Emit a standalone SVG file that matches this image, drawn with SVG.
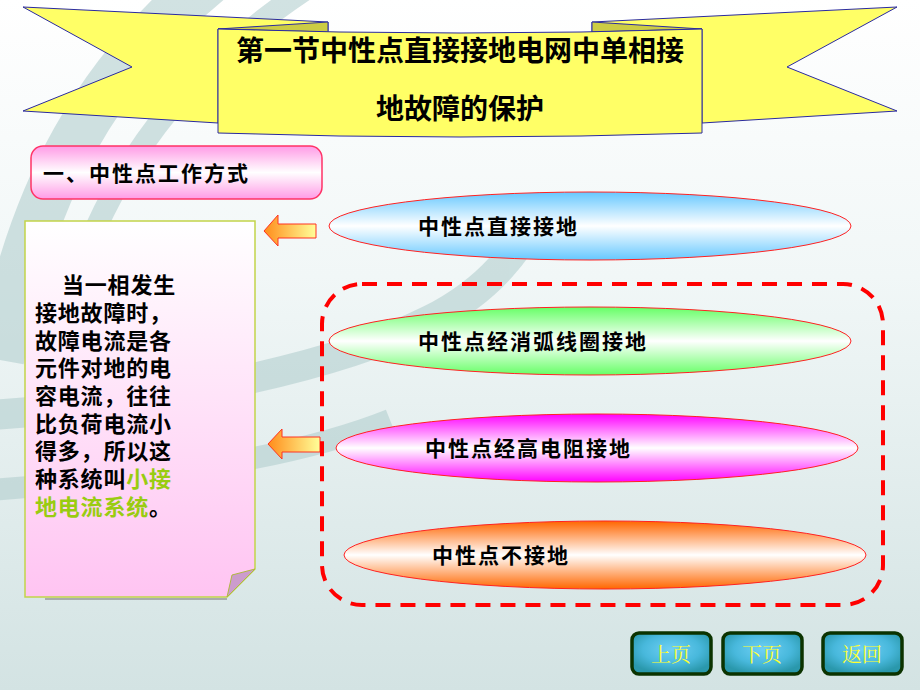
<svg xmlns="http://www.w3.org/2000/svg" width="920" height="690" viewBox="0 0 920 690">
<defs>
<linearGradient id="bg" x1="0" y1="0" x2="0" y2="1">
<stop offset="0" stop-color="#ffffff"/>
<stop offset="0.4" stop-color="#f1f7f7"/>
<stop offset="1" stop-color="#d3e3e3"/>
</linearGradient>
<linearGradient id="subG" x1="0" y1="0" x2="0" y2="1">
<stop offset="0" stop-color="#ff9be6"/>
<stop offset="0.5" stop-color="#ffffff"/>
<stop offset="1" stop-color="#ff9be6"/>
</linearGradient>
<linearGradient id="noteG" x1="0" y1="0" x2="0" y2="1">
<stop offset="0" stop-color="#ffffff"/>
<stop offset="1" stop-color="#ffc4f2"/>
</linearGradient>
<linearGradient id="arrG" x1="0" y1="0" x2="1" y2="0">
<stop offset="0" stop-color="#ff8c1a"/>
<stop offset="1" stop-color="#ffff99"/>
</linearGradient>
<linearGradient id="blueG" x1="0" y1="0" x2="0" y2="1">
<stop offset="0" stop-color="#66c8ff"/>
<stop offset="0.5" stop-color="#ffffff"/>
<stop offset="1" stop-color="#66c8ff"/>
</linearGradient>
<linearGradient id="greenG" x1="0" y1="0" x2="0" y2="1">
<stop offset="0" stop-color="#66ff66"/>
<stop offset="0.5" stop-color="#ffffff"/>
<stop offset="1" stop-color="#66ff66"/>
</linearGradient>
<linearGradient id="magG" x1="0" y1="0" x2="0" y2="1">
<stop offset="0" stop-color="#ff00ff"/>
<stop offset="0.5" stop-color="#ffffff"/>
<stop offset="1" stop-color="#ff00ff"/>
</linearGradient>
<linearGradient id="oraG" x1="0" y1="0" x2="0" y2="1">
<stop offset="0" stop-color="#ff6600"/>
<stop offset="0.5" stop-color="#ffffff"/>
<stop offset="1" stop-color="#ff6600"/>
</linearGradient>
<radialGradient id="btnG" cx="0.5" cy="0.4" r="0.6">
<stop offset="0" stop-color="#6fd0f5"/>
<stop offset="0.6" stop-color="#48b8dc"/>
<stop offset="1" stop-color="#2a98ac"/>
</radialGradient>
<style>
.cjk{font-family:"Liberation Sans","Noto Sans CJK SC",sans-serif;}
.title{font-size:28px;font-weight:bold;fill:#000;}
.sub{font-size:21px;font-weight:bold;fill:#000;letter-spacing:2px;}
.note{font-size:22px;font-weight:bold;fill:#000;letter-spacing:0.8px;}
.green{fill:#99cc11;}
.ell{stroke:#ff2222;stroke-width:1;}
.elt{font-size:21px;font-weight:bold;fill:#000;letter-spacing:2px;}
.arrow{fill:url(#arrG);stroke:#ff3322;stroke-width:1;}
.btn{fill:url(#btnG);stroke:#0b3300;stroke-width:3.5;}
.btt{font-size:20px;fill:#ffff33;text-anchor:middle;font-family:"Noto Serif CJK SC","Noto Sans CJK SC",serif;}
.swoosh{fill:none;stroke:#b3cfcf;}
.ban{fill:#ffff66;stroke:#2a2aa0;stroke-width:1;}
.fold{fill:#cccc44;stroke:#2a2aa0;stroke-width:1;}
</style>
</defs>
<rect x="0" y="0" width="920" height="690" fill="url(#bg)"/>
<g id="background-swooshes" opacity="0.6">
<path class="swoosh" d="M 210 -20 C 100 70 30 190 0 360" stroke-width="48"/>
<path class="swoosh" d="M 320 -20 C 210 50 140 130 95 230" stroke-width="22"/>
<path class="swoosh" d="M -10 415 C 150 405 330 370 430 320 C 490 290 520 250 545 200" stroke-width="30"/>
<path class="swoosh" d="M -10 490 C 150 478 290 460 390 420" stroke-width="22"/>
</g>

<g id="banner">
<polygon class="ban" points="23,7 328,22 328,32 218,29 218,123 23,111 132,67"/>
<polygon class="fold" points="218,29 328,22 328,32"/>
<polygon class="ban" points="897,7 592,22 592,32 702,29 702,123 897,111 787,67"/>
<polygon class="fold" points="702,29 592,22 592,32"/>
<path class="ban" d="M 218 29 Q 460 37 702 29 L 702 133 Q 460 141 218 133 Z"/>
<text class="cjk title" x="236" y="61">第一节中性点直接接地电网中单相接</text>
<text class="cjk title" x="376" y="119">地故障的保护</text>
</g>

<g id="subtitle">
<rect x="31" y="146" width="291" height="53" rx="12" fill="url(#subG)" stroke="#ff3366" stroke-width="1.5"/>
<text class="cjk sub" x="43" y="181">一、中性点工作方式</text>
</g>

<g id="note">
<line x1="45" y1="599" x2="227" y2="599" stroke="#999" stroke-width="1.5"/>
<polygon points="25,221 255,221 255,569 227,597 25,597" fill="url(#noteG)" stroke="#c2d44a" stroke-width="1.5"/>
<polygon points="255,569 232,575 227,597" fill="#cc9ccc" stroke="#b0b840" stroke-width="1"/>
<text class="cjk note">
<tspan x="62" y="293">当一相发生</tspan>
<tspan x="35" y="321">接地故障时，</tspan>
<tspan x="35" y="349">故障电流是各</tspan>
<tspan x="35" y="376">元件对地的电</tspan>
<tspan x="35" y="404">容电流，往往</tspan>
<tspan x="35" y="432">比负荷电流小</tspan>
<tspan x="35" y="459">得多，所以这</tspan>
<tspan x="35" y="487">种系统叫<tspan class="green">小接</tspan></tspan>
<tspan x="35" y="515"><tspan class="green">地电流系统</tspan>。</tspan>
</text>
</g>

<g id="connectors">
<polygon class="arrow" points="264,231 278,215 278,224 316,224 316,238 278,238 278,246"/>
<polygon class="arrow" points="268,444 282,429 282,437 320,437 320,452 282,452 282,459"/>
</g>

<g id="group-box">
<rect x="322" y="284" width="561" height="321" rx="40" fill="none" stroke="#ff0000" stroke-width="4" stroke-dasharray="15,10"/>
</g>

<g id="node-direct">
<ellipse class="ell" cx="590" cy="226" rx="261" ry="34" fill="url(#blueG)"/>
<text class="cjk elt" x="418" y="234">中性点直接接地</text>
</g>
<g id="node-arc">
<ellipse class="ell" cx="590" cy="341" rx="261" ry="34" fill="url(#greenG)"/>
<text class="cjk elt" x="418" y="349">中性点经消弧线圈接地</text>
</g>
<g id="node-resistor">
<ellipse class="ell" cx="597" cy="448" rx="261" ry="34" fill="url(#magG)"/>
<text class="cjk elt" x="425" y="456">中性点经高电阻接地</text>
</g>
<g id="node-ungrounded">
<ellipse class="ell" cx="605" cy="555" rx="261" ry="34" fill="url(#oraG)"/>
<text class="cjk elt" x="432" y="563">中性点不接地</text>
</g>

<g id="btn-prev">
<rect class="btn" x="632" y="633" width="79" height="41" rx="7"/>
<text class="btt" x="671" y="662">上页</text>
</g>
<g id="btn-next">
<rect class="btn" x="723" y="633" width="79" height="41" rx="7"/>
<text class="btt" x="762" y="662">下页</text>
</g>
<g id="btn-back">
<rect class="btn" x="823" y="633" width="79" height="41" rx="7"/>
<text class="btt" x="862" y="662">返回</text>
</g>
</svg>
